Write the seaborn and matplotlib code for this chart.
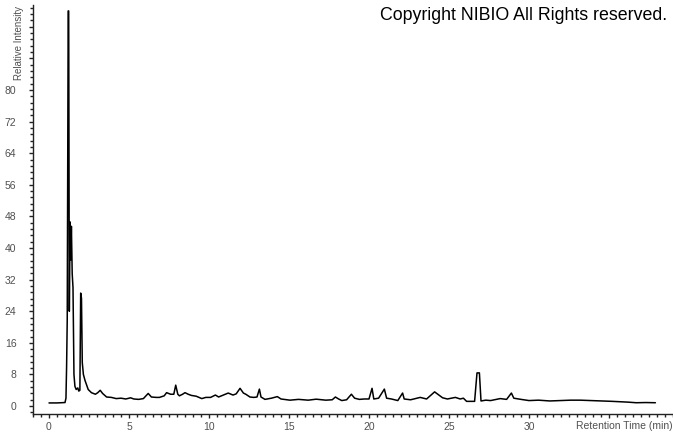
import matplotlib
matplotlib.use("Agg")
import matplotlib.pyplot as plt
from matplotlib.ticker import MultipleLocator, FixedLocator
import seaborn as sns
import pandas as pd

# retention time (min) and relative intensity
rt = [0.0, 0.5, 1.0, 1.06, 1.1, 1.14, 1.2, 1.23, 1.27, 1.32, 1.36, 1.40, 1.45, 1.5,
      1.56, 1.62, 1.7, 1.8, 1.86, 1.93, 1.98, 2.03, 2.08, 2.15, 2.25, 2.45, 2.65,
      2.9, 3.05, 3.2, 3.35, 3.6, 3.9, 4.2, 4.5, 4.8, 5.1, 5.3, 5.6, 5.9, 6.2, 6.4,
      6.7, 6.9, 7.2, 7.35, 7.6, 7.8, 7.92, 8.05, 8.15, 8.35, 8.5, 8.7, 8.9, 9.2,
      9.55, 9.8, 10.1, 10.4, 10.6, 10.9, 11.2, 11.5, 11.7, 11.94, 12.15, 12.3,
      12.56, 12.8, 13.0, 13.15, 13.25, 13.5, 13.9, 14.27, 14.5, 15.06, 15.6, 16.2,
      16.7, 17.3, 17.7, 17.9, 18.1, 18.3, 18.6, 18.9, 19.1, 19.4, 19.7, 20.0,
      20.19, 20.3, 20.6, 20.96, 21.1, 21.4, 21.8, 22.1, 22.2, 22.6, 23.2, 23.6,
      24.1, 24.3, 24.6, 24.9, 25.4, 25.7, 25.9, 26.1, 26.6, 26.75, 26.9, 27.0,
      27.3, 27.6, 28.2, 28.6, 28.9, 29.05, 29.5, 30.0, 30.6, 31.3, 32.0, 32.6,
      33.2, 33.9, 34.6, 35.2, 35.7, 36.2, 36.7, 37.3, 37.9]
intensity = [0.8, 0.8, 0.9, 2.0, 10.0, 22.0, 100.0, 100.0, 24.0, 46.6, 37.0, 45.5, 33.5, 30.0,
             8.0, 5.0, 4.2, 4.6, 3.8, 4.0, 28.6, 27.3, 11.0, 8.0, 6.5, 4.2, 3.4,
             3.0, 3.4, 4.0, 3.2, 2.3, 2.2, 1.9, 2.0, 1.8, 2.1, 1.8, 1.7, 1.9, 3.2, 2.3,
             2.2, 2.2, 2.6, 3.4, 3.0, 3.0, 5.3, 3.0, 2.6, 3.0, 3.4, 3.0, 2.7, 2.5,
             1.9, 2.2, 2.2, 2.8, 2.3, 2.8, 3.3, 2.8, 3.1, 4.5, 3.3, 3.0,
             2.3, 2.2, 2.3, 4.3, 2.3, 1.7, 2.0, 2.4, 1.8, 1.5, 1.7, 1.5,
             1.75, 1.5, 1.6, 2.3, 1.8, 1.4, 1.6, 3.0, 2.0, 1.7, 1.8, 1.8,
             4.5, 1.8, 2.0, 4.3, 2.0, 1.8, 1.4, 3.3, 1.8, 1.6, 2.2, 1.8,
             3.6, 3.0, 2.1, 1.8, 2.2, 1.8, 2.0, 1.2, 1.2, 8.4, 8.4, 1.3,
             1.5, 1.4, 1.9, 1.7, 3.3, 2.0, 1.7, 1.4, 1.5, 1.3, 1.4, 1.5,
             1.5, 1.4, 1.3, 1.2, 1.1, 1.0, 0.85, 0.9, 0.85]

x_labels = ["0", "5", "10", "15", "20", "25", "30", ""]
y_labels = ["0", "8", "16", "24", "32", "40", "48", "56", "64", "72", "80", "", ""]

df = pd.DataFrame({"rt": rt, "intensity": intensity})

sns.set_style("white")
plt.rcParams["font.family"] = ["Liberation Sans", "DejaVu Sans"]

fig = plt.figure(figsize=(6.73, 4.33), dpi=100)
ax = fig.add_axes([33 / 673, 19 / 433, 640 / 673, 409 / 433])
sns.lineplot(data=df, x="rt", y="intensity", ax=ax, color="black", linewidth=1.1)

ax.set_xlim(-1, 39)
ax.set_ylim(-2, 101.5)
ax.xaxis.set_major_locator(FixedLocator(range(0, 40, 5)))
ax.set_xticklabels(x_labels)
ax.xaxis.set_minor_locator(MultipleLocator(0.5))
ax.yaxis.set_major_locator(FixedLocator(range(0, 100, 8)))
ax.set_yticklabels(y_labels)
ax.yaxis.set_minor_locator(MultipleLocator(1.6))
ax.set_xlabel("")
ax.set_ylabel("")

for side in ["top", "right"]:
    ax.spines[side].set_visible(False)
for side in ["left", "bottom"]:
    ax.spines[side].set_color("#222222")
    ax.spines[side].set_linewidth(1.0)

ax.tick_params(axis="x", which="major", direction="out", length=3, width=1,
               color="#222222", labelsize=7.5, labelcolor="#505050", pad=3, bottom=True)
ax.tick_params(axis="x", which="minor", direction="out", length=2, width=1,
               color="#222222", bottom=True)
ax.tick_params(axis="y", which="major", direction="out", length=3, width=1,
               color="#222222", labelsize=7.5, labelcolor="#505050", pad=9, left=True)
ax.tick_params(axis="y", which="minor", direction="out", length=2, width=1,
               color="#222222", left=True)

fig.text(0.999, 2 / 433, "Retention Time (min)", ha="right", va="bottom",
         fontsize=7.5, color="#505050")
fig.text(19 / 673, 1 - 80 / 433, "Relative Intensity", rotation=90, ha="center",
         va="bottom", fontsize=7, color="#505050")
fig.text(667 / 673, 1 - 20 / 433, "Copyright NIBIO All Rights reserved.",
         ha="right", va="baseline", fontsize=12.8, color="black")

fig.savefig("out.png", dpi=100)
